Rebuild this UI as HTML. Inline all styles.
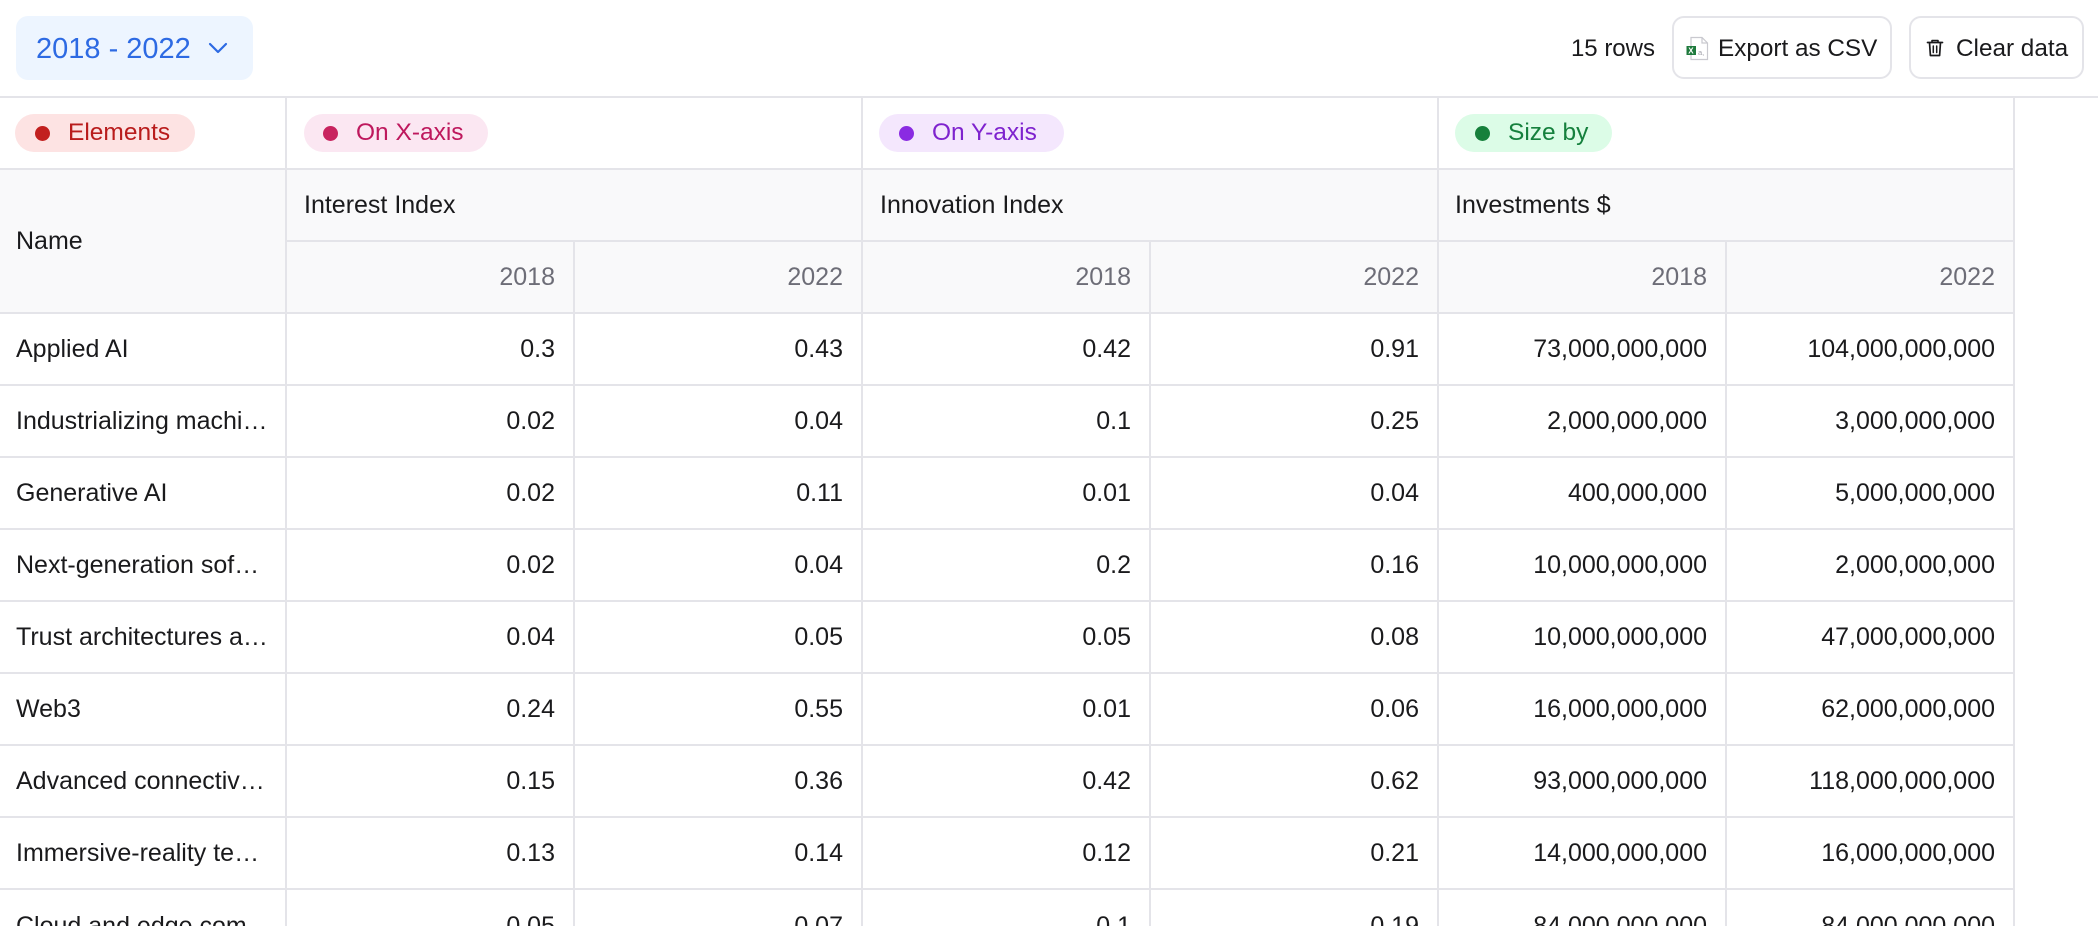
<!DOCTYPE html>
<html>
<head>
<meta charset="utf-8">
<style>
  html,body{margin:0;padding:0;width:2098px;height:926px;overflow:hidden;}
  body{background:#ffffff;font-family:"Liberation Sans",Arial,sans-serif;color:#1a1a1c;}
  #wrap{position:relative;width:2098px;height:926px;overflow:hidden;background:#ffffff;}
  .a{position:absolute;white-space:nowrap;}
  .hl{position:absolute;height:2px;background:#e4e4e9;}
  .vl{position:absolute;width:2px;background:#e4e4e9;}
  .cell{position:absolute;height:70px;line-height:70px;font-size:25px;white-space:nowrap;}
  .r{text-align:right;width:268px;}
  .yr{color:#6d6d77;}
  .badge{position:absolute;top:114px;height:38px;border-radius:19px;}
  .badge .dot{position:absolute;top:11.5px;width:15px;height:15px;border-radius:50%;}
  .badge .t{position:absolute;top:0;height:38px;line-height:38px;font-size:24.5px;white-space:nowrap;}
  .btn{position:absolute;top:16px;height:59px;border:2px solid #e4e4e9;border-radius:12px;background:#fff;}
</style>
</head>
<body>
<div id="wrap">

<!-- Top bar -->
<div class="a" style="left:16px;top:16px;width:237px;height:64px;background:#edf5ff;border-radius:12px;"></div>
<div class="a" style="left:36px;top:17px;height:64px;line-height:64px;font-size:29px;color:#2d6ae3;">2018 - 2022</div>
<svg class="a" style="left:207px;top:40px;" width="22" height="16" viewBox="0 0 22 16">
  <polyline points="3,4 11,12 19,4" fill="none" stroke="#2d6ae3" stroke-width="2.2" stroke-linecap="round" stroke-linejoin="round"/>
</svg>

<div class="a" style="left:1520px;width:135px;text-align:right;top:20px;height:58px;line-height:58px;font-size:24px;color:#1a1a1c;">15 rows</div>

<div class="btn" style="left:1672px;width:216px;"></div>
<svg class="a" style="left:1685px;top:36px;" width="24" height="25" viewBox="0 0 24 25">
  <path d="M6 1.5 H17 L22.5 7 V23.5 H6 Z" fill="#ffffff" stroke="#c9c9cf" stroke-width="1.2"/>
  <path d="M17 1.5 V7 H22.5" fill="none" stroke="#c9c9cf" stroke-width="1.2"/>
  <rect x="1.5" y="10" width="9.5" height="9" fill="#1f7a3d"/>
  <text x="3.2" y="17.6" font-family="Liberation Sans, sans-serif" font-size="8" font-weight="bold" fill="#ffffff">X</text>
  <text x="13" y="19" font-family="Liberation Sans, sans-serif" font-size="7.5" fill="#a0a0a8">a,</text>
</svg>
<div class="a" style="left:1718px;top:20px;height:58px;line-height:58px;font-size:24.3px;color:#1a1a1c;">Export as CSV</div>

<div class="btn" style="left:1909px;width:171px;"></div>
<svg class="a" style="left:1925px;top:38px;" width="20" height="20" viewBox="0 0 20 20">
  <path d="M2.5 4.5 H17.5" stroke="#1a1a1c" stroke-width="1.7" fill="none" stroke-linecap="round"/>
  <path d="M7 4.5 V2.5 H13 V4.5" stroke="#1a1a1c" stroke-width="1.6" fill="none" stroke-linejoin="round"/>
  <path d="M4.5 4.5 L5.4 17.5 H14.6 L15.5 4.5" stroke="#1a1a1c" stroke-width="1.7" fill="none" stroke-linejoin="round"/>
  <path d="M8.3 8 V14.5 M11.7 8 V14.5" stroke="#1a1a1c" stroke-width="1.5" fill="none" stroke-linecap="round"/>
</svg>
<div class="a" style="left:1956px;top:20px;height:58px;line-height:58px;font-size:24.3px;color:#1a1a1c;">Clear data</div>

<!-- Header background -->
<div class="a" style="left:0;top:168px;width:2013px;height:144px;background:#f9f9fa;"></div>

<!-- Horizontal lines -->
<div class="hl" style="left:0;top:96px;width:2098px;"></div>
<div class="hl" style="left:0;top:168px;width:2015px;"></div>
<div class="hl" style="left:285px;top:240px;width:1730px;"></div>
<div class="hl" style="left:0;top:312px;width:2015px;"></div>
<div class="hl" style="left:0;top:384px;width:2015px;"></div>
<div class="hl" style="left:0;top:456px;width:2015px;"></div>
<div class="hl" style="left:0;top:528px;width:2015px;"></div>
<div class="hl" style="left:0;top:600px;width:2015px;"></div>
<div class="hl" style="left:0;top:672px;width:2015px;"></div>
<div class="hl" style="left:0;top:744px;width:2015px;"></div>
<div class="hl" style="left:0;top:816px;width:2015px;"></div>
<div class="hl" style="left:0;top:888px;width:2015px;"></div>

<!-- Vertical lines -->
<div class="vl" style="left:285px;top:96px;height:830px;"></div>
<div class="vl" style="left:861px;top:96px;height:830px;"></div>
<div class="vl" style="left:1437px;top:96px;height:830px;"></div>
<div class="vl" style="left:2013px;top:96px;height:830px;"></div>
<div class="vl" style="left:573px;top:240px;height:686px;"></div>
<div class="vl" style="left:1149px;top:240px;height:686px;"></div>
<div class="vl" style="left:1725px;top:240px;height:686px;"></div>

<!-- Badges -->
<div class="badge" style="left:15px;width:180px;background:#fde3e3;">
  <div class="dot" style="left:20px;background:#c2201f;"></div>
  <div class="t" style="left:53px;color:#b91c1c;">Elements</div>
</div>
<div class="badge" style="left:304px;width:184px;background:#fbe7f2;">
  <div class="dot" style="left:19px;background:#c8245f;"></div>
  <div class="t" style="left:52px;color:#be185d;">On X-axis</div>
</div>
<div class="badge" style="left:879px;width:185px;background:#f4e7fd;">
  <div class="dot" style="left:20px;background:#8a2be2;"></div>
  <div class="t" style="left:53px;color:#7e22ce;">On Y-axis</div>
</div>
<div class="badge" style="left:1455px;width:157px;background:#dcfce7;">
  <div class="dot" style="left:20px;background:#16803c;"></div>
  <div class="t" style="left:53px;color:#15803d;">Size by</div>
</div>

<!-- Header texts -->
<div class="a" style="left:16px;top:170px;height:142px;line-height:142px;font-size:25px;">Name</div>
<div class="cell" style="left:304px;top:170px;">Interest Index</div>
<div class="cell" style="left:880px;top:170px;">Innovation Index</div>
<div class="cell" style="left:1455px;top:170px;">Investments $</div>

<div class="cell r yr" style="left:287px;top:242px;">2018</div>
<div class="cell r yr" style="left:575px;top:242px;">2022</div>
<div class="cell r yr" style="left:863px;top:242px;">2018</div>
<div class="cell r yr" style="left:1151px;top:242px;">2022</div>
<div class="cell r yr" style="left:1439px;top:242px;">2018</div>
<div class="cell r yr" style="left:1727px;top:242px;">2022</div>

<!-- Row 1 -->
<div class="cell" style="left:16px;top:314px;">Applied AI</div>
<div class="cell r" style="left:287px;top:314px;">0.3</div>
<div class="cell r" style="left:575px;top:314px;">0.43</div>
<div class="cell r" style="left:863px;top:314px;">0.42</div>
<div class="cell r" style="left:1151px;top:314px;">0.91</div>
<div class="cell r" style="left:1439px;top:314px;">73,000,000,000</div>
<div class="cell r" style="left:1727px;top:314px;">104,000,000,000</div>

<!-- Row 2 -->
<div class="cell" style="left:16px;top:386px;">Industrializing machi…</div>
<div class="cell r" style="left:287px;top:386px;">0.02</div>
<div class="cell r" style="left:575px;top:386px;">0.04</div>
<div class="cell r" style="left:863px;top:386px;">0.1</div>
<div class="cell r" style="left:1151px;top:386px;">0.25</div>
<div class="cell r" style="left:1439px;top:386px;">2,000,000,000</div>
<div class="cell r" style="left:1727px;top:386px;">3,000,000,000</div>

<!-- Row 3 -->
<div class="cell" style="left:16px;top:458px;">Generative AI</div>
<div class="cell r" style="left:287px;top:458px;">0.02</div>
<div class="cell r" style="left:575px;top:458px;">0.11</div>
<div class="cell r" style="left:863px;top:458px;">0.01</div>
<div class="cell r" style="left:1151px;top:458px;">0.04</div>
<div class="cell r" style="left:1439px;top:458px;">400,000,000</div>
<div class="cell r" style="left:1727px;top:458px;">5,000,000,000</div>

<!-- Row 4 -->
<div class="cell" style="left:16px;top:530px;">Next-generation sof…</div>
<div class="cell r" style="left:287px;top:530px;">0.02</div>
<div class="cell r" style="left:575px;top:530px;">0.04</div>
<div class="cell r" style="left:863px;top:530px;">0.2</div>
<div class="cell r" style="left:1151px;top:530px;">0.16</div>
<div class="cell r" style="left:1439px;top:530px;">10,000,000,000</div>
<div class="cell r" style="left:1727px;top:530px;">2,000,000,000</div>

<!-- Row 5 -->
<div class="cell" style="left:16px;top:602px;">Trust architectures a…</div>
<div class="cell r" style="left:287px;top:602px;">0.04</div>
<div class="cell r" style="left:575px;top:602px;">0.05</div>
<div class="cell r" style="left:863px;top:602px;">0.05</div>
<div class="cell r" style="left:1151px;top:602px;">0.08</div>
<div class="cell r" style="left:1439px;top:602px;">10,000,000,000</div>
<div class="cell r" style="left:1727px;top:602px;">47,000,000,000</div>

<!-- Row 6 -->
<div class="cell" style="left:16px;top:674px;">Web3</div>
<div class="cell r" style="left:287px;top:674px;">0.24</div>
<div class="cell r" style="left:575px;top:674px;">0.55</div>
<div class="cell r" style="left:863px;top:674px;">0.01</div>
<div class="cell r" style="left:1151px;top:674px;">0.06</div>
<div class="cell r" style="left:1439px;top:674px;">16,000,000,000</div>
<div class="cell r" style="left:1727px;top:674px;">62,000,000,000</div>

<!-- Row 7 -->
<div class="cell" style="left:16px;top:746px;">Advanced connectiv…</div>
<div class="cell r" style="left:287px;top:746px;">0.15</div>
<div class="cell r" style="left:575px;top:746px;">0.36</div>
<div class="cell r" style="left:863px;top:746px;">0.42</div>
<div class="cell r" style="left:1151px;top:746px;">0.62</div>
<div class="cell r" style="left:1439px;top:746px;">93,000,000,000</div>
<div class="cell r" style="left:1727px;top:746px;">118,000,000,000</div>

<!-- Row 8 -->
<div class="cell" style="left:16px;top:818px;">Immersive-reality te…</div>
<div class="cell r" style="left:287px;top:818px;">0.13</div>
<div class="cell r" style="left:575px;top:818px;">0.14</div>
<div class="cell r" style="left:863px;top:818px;">0.12</div>
<div class="cell r" style="left:1151px;top:818px;">0.21</div>
<div class="cell r" style="left:1439px;top:818px;">14,000,000,000</div>
<div class="cell r" style="left:1727px;top:818px;">16,000,000,000</div>

<!-- Row 9 (partially visible) -->
<div class="cell" style="left:16px;top:891px;">Cloud and edge com…</div>
<div class="cell r" style="left:287px;top:891px;">0.05</div>
<div class="cell r" style="left:575px;top:891px;">0.07</div>
<div class="cell r" style="left:863px;top:891px;">0.1</div>
<div class="cell r" style="left:1151px;top:891px;">0.19</div>
<div class="cell r" style="left:1439px;top:891px;">84,000,000,000</div>
<div class="cell r" style="left:1727px;top:891px;">84,000,000,000</div>

</div>
</body>
</html>
